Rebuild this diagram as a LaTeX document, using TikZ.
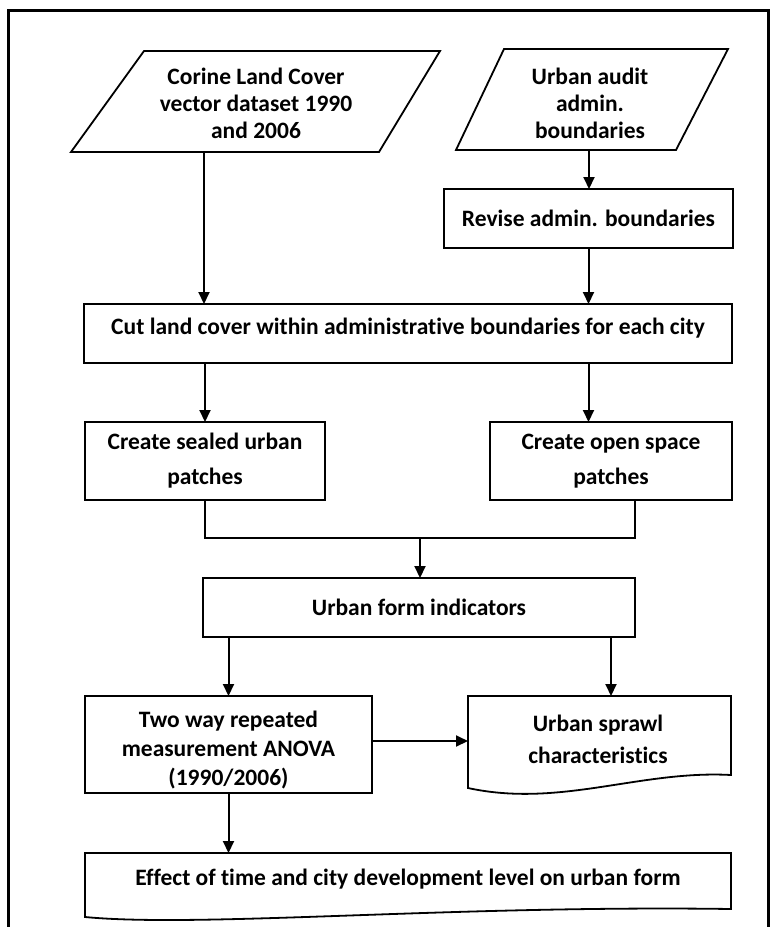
\documentclass[tikz,border=0pt]{standalone}
\usepackage{fontspec}
\setmainfont{Carlito}[Ligatures={NoCommon}]
\usetikzlibrary{arrows.meta}
\newcommand\fsz[1]{\fontsize{23.5}{#1}\selectfont\bfseries}
\begin{document}
\begin{tikzpicture}[x=1pt,y=-1pt,
  every node/.style={inner sep=0pt, outer sep=0pt},
  proc/.style={draw, line width=1.8pt, rectangle, align=center},
  txt/.style={align=center},
  ghost/.style={rectangle, draw=none},
  arr/.style={line width=2pt, -{Triangle[length=12pt,width=11pt]}},
  ln/.style={line width=2pt},
  shp/.style={line width=1.8pt, line join=miter}]
\useasboundingbox (0,0) rectangle (771,927);
\draw[line width=3pt] (8,927) -- (8,10) -- (768,10) -- (768,927);

% input parallelograms
\draw[shp] (144,51) -- (440,51) -- (379,152) -- (71,152) -- cycle;
\node[txt, font=\fsz{27}] (corine) at (256,103) {Corine Land Cover\\vector dataset 1990\\and 2006};
\coordinate (corineb) at (204,152);

\draw[shp] (504,49) -- (728,49) -- (676,150) -- (456,150) -- cycle;
\node[txt, font=\fsz{27}] (audit) at (590,103) {Urban audit\\admin.\\boundaries};
\coordinate (auditb) at (589,150);

% process boxes
\node[proc, minimum width=289, minimum height=59, font=\fsz{23}] (revise) at (588.5,218.5) {Revise admin. boundaries};
\node[proc, minimum width=648, minimum height=59] (cut) at (408,333.5) {};
\node[txt, font=\fsz{23}] (cutT) at (408,328) {Cut land cover within administrative boundaries for each city};
\node[proc, minimum width=240, minimum height=78, font=\fsz{35}] (sealed) at (205,461) {Create sealed urban\\patches};
\node[proc, minimum width=242, minimum height=78, font=\fsz{35}] (open) at (611,461) {Create open space\\patches};
\coordinate (openb) at (635,500);
\coordinate (join) at (420,538);
\node[proc, minimum width=432, minimum height=59, font=\fsz{23}] (form) at (419,607.5) {Urban form indicators};
\node[proc, minimum width=287, minimum height=97] (twoway) at (228.5,744.5) {};
\node[txt, font=\fsz{29}] (twowayT) at (228.5,750) {Two way repeated\\measurement ANOVA\\(1990/2006)};

% documents
\draw[shp] (468,788) -- (468,696) -- (731,696) -- (731,775)
  .. controls (640,770) and (560,808) .. (468,788) -- cycle;
\node[ghost, minimum width=263, minimum height=92] (sprawl) at (599.5,742) {};
\node[txt, font=\fsz{32}] (sprawlT) at (598,739.5) {Urban sprawl\\characteristics};

\draw[shp] (85,917) -- (85,853) -- (731,853) -- (731,909)
  .. controls (450,905) and (200,928) .. (85,917) -- cycle;
\node[ghost, minimum width=646, minimum height=64] (effect) at (408,885) {};
\node[txt, font=\fsz{23}] (effectT) at (408,879) {Effect of time and city development level on urban form};

% connectors
\draw[arr] (auditb) -- (revise.north -| auditb);
\draw[arr] (corineb) -- (cut.north -| corineb);
\draw[arr] (revise.south) -- (cut.north -| revise.south);
\draw[arr] (cut.south -| sealed.north) -- (sealed.north);
\draw[arr] (cut.south -| revise.south) -- (open.north -| revise.south);
\draw[ln] (sealed.south) |- (join);
\draw[ln] (openb) |- (join);
\draw[arr] (join) -- (form.north -| join);
\draw[arr] (form.south -| twoway.north) -- (twoway.north);
\draw[arr] (form.south -| open.north) -- (sprawl.north -| open.north);
\coordinate (ay) at (0,741);
\draw[arr] (twoway.east |- ay) -- (sprawl.west |- ay);
\draw[arr] (twoway.south) -- (effect.north -| twoway.south);
\end{tikzpicture}
\end{document}
